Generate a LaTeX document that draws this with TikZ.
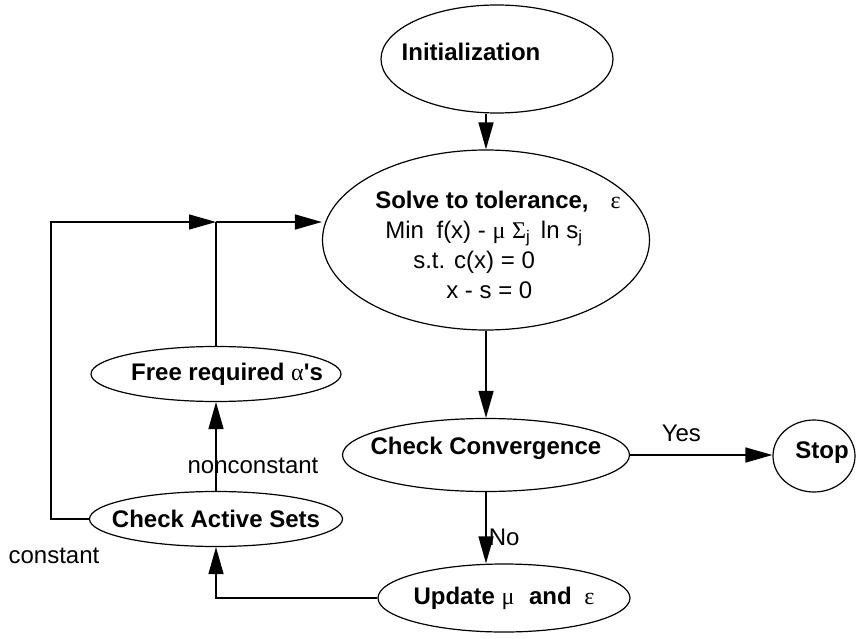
\documentclass[tikz,border=0pt]{standalone}
\usepackage{fontspec}
\setmainfont{Liberation Sans}
\newfontfamily\greekfont{Liberation Serif}
\usetikzlibrary{shapes.geometric,arrows.meta}
\newcommand{\gr}[1]{{\greekfont\mdseries #1}}
\tikzset{
  every node/.style={font=\fontsize{24}{30}\selectfont},
  every label/.style={font=\fontsize{24}{30}\selectfont\bfseries, inner sep=0pt},
  oval/.style={draw, ellipse, line width=1.2pt, inner sep=0pt},
  flow/.style={line width=1.5pt, -{Triangle[length=27pt,width=15pt]}},
  link/.style={line width=1.5pt},
  tag/.style={inner sep=0pt},
}
\begin{document}
\begin{tikzpicture}[x=1pt,y=-1pt]
  \useasboundingbox (0,0) rectangle (856,639);

  \node[oval, minimum width=232, minimum height=108,
    label={[xshift=-26pt, yshift=7pt]center:Initialization}] (init) at (497,59) {};
  \node[oval, minimum width=327, minimum height=180,
    label={[align=left, font=\fontsize{24}{30}\selectfont, xshift=12pt, yshift=-5pt]center:{\textbf{Solve to tolerance,}\hspace{22pt}\gr{ε}\\
      \hspace*{10pt}Min\hspace{6pt} f(x) - \gr{μ} \gr{Σ}\textsubscript{j}\hspace{4pt} ln s\textsubscript{j}\\
      \hspace*{38pt}s.t. c(x) = 0\\
      \hspace*{71pt}x - s = 0}}] (solve) at (486,240) {};
  \node[oval, minimum width=287, minimum height=73,
    label={[yshift=7pt]center:Check Convergence}] (conv) at (486,455) {};
  \node[oval, minimum width=82, minimum height=72,
    label={[xshift=8pt, yshift=3pt]center:Stop}] (stop) at (814,456) {};
  \node[oval, minimum width=252, minimum height=68,
    label={center:Update \gr{μ}\hspace{8pt} and\hspace{6pt} \gr{ε}}] (update) at (504,598) {};
  \node[oval, minimum width=253, minimum height=55,
    label={center:Check Active Sets}] (active) at (216,519) {};
  \node[oval, minimum width=250, minimum height=55,
    label={[xshift=11pt]center:Free required \gr{α}\textquotesingle s}] (free) at (216,374) {};
  \node[tag] (constant) at (54,556) {constant};
  \coordinate (join) at (216,222);

  \draw[flow] (solve.north |- init.south) -- (solve.north);
  \draw[flow] (solve.south) -- (conv.north);
  \draw[flow] (conv.east) -- node[tag, above=13pt, pos=0.36]{Yes} (conv.east -| stop.west);
  \draw[flow] (conv.south) -- node[tag, right=2pt, pos=0.64]{No} (conv.south |- update.north);
  \draw[flow] (update.west) -| (active.south);
  \draw[flow] (active.north) -- node[tag, pos=0.28, xshift=37pt]{nonconstant} (free.south);
  \draw[link] (free.north) -- (join);
  \draw[flow] (join) -- (join -| solve.west);
  \draw[flow] (active.west) -- ++(-38,0) |- (join);
\end{tikzpicture}
\end{document}
